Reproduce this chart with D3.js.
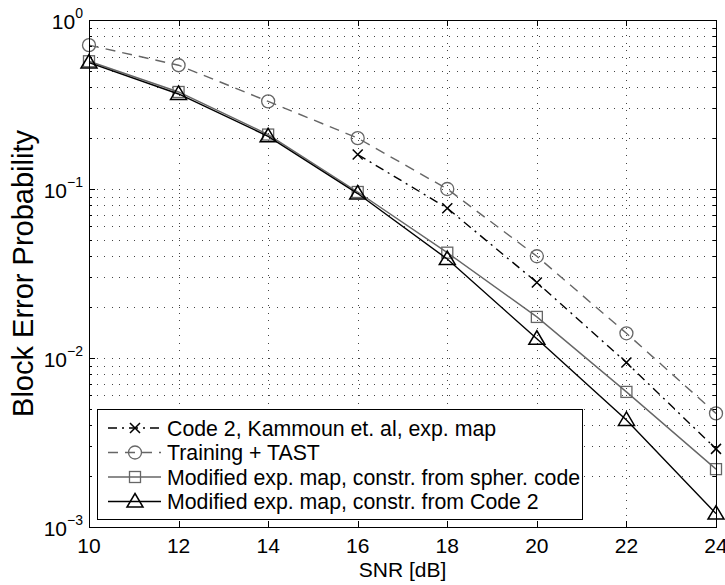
<html>
<head>
<meta charset="utf-8">
<title>Block error probability vs SNR</title>
<script src="https://cdn.jsdelivr.net/npm/d3@7"></script>
<style>
  body { margin: 0; background: #fff; font-family: "Liberation Sans", Arial, sans-serif; }
  svg text { font-family: "Liberation Sans", Arial, sans-serif; fill: #000; }
</style>
</head>
<body>
<div id="chart"></div>
<script>
// ***** DATA *****
var snrValues = [10, 12, 14, 16, 18, 20, 22, 24];
var snrCode2 = [16, 18, 20, 22, 24];
var code2Kammoun = [0.16, 0.077, 0.028, 0.0094, 0.0029];
var trainingTast = [0.71, 0.54, 0.33, 0.20, 0.10, 0.040, 0.014, 0.0047];
var modSpherCode = [0.57, 0.375, 0.21, 0.096, 0.042, 0.0175, 0.0063, 0.0022];
var modCode2 = [0.56, 0.365, 0.205, 0.094, 0.0385, 0.013, 0.0043, 0.0012];
var legendLabels = [
  "Code 2, Kammoun et. al, exp. map",
  "Training + TAST",
  "Modified exp. map, constr. from spher. code",
  "Modified exp. map, constr. from Code 2"
];
var xTicks = [10, 12, 14, 16, 18, 20, 22, 24];
var yDecades = [0, -1, -2, -3];

var width = 725, height = 585;
var margin = { left: 89, right: 9, top: 20, bottom: 58 };
var gray = "#666666";
var fontSize = 21;

var svg = d3.select("#chart").append("svg")
  .attr("width", width).attr("height", height);

var x = d3.scaleLinear().domain([10, 24]).range([margin.left, width - margin.right]);
var y = d3.scaleLog().domain([1e-3, 1]).range([height - margin.bottom, margin.top]);

var x0 = x.range()[0], x1 = x.range()[1], y0 = y.range()[0], y1 = y.range()[1];

// grid - dotted lines at major x ticks and every log tick
var grid = svg.append("g").attr("stroke", "#444").attr("stroke-width", 1)
  .attr("stroke-dasharray", "1,6.5").attr("shape-rendering", "crispEdges");
var yLogTicks = y.ticks();
grid.selectAll(".hg").data(yLogTicks.filter(function(d) { return d < 1 && d > 1e-3; }))
  .enter().append("line")
  .attr("x1", x0).attr("x2", x1)
  .attr("y1", function(d) { return Math.round(y(d)) + 0.5; })
  .attr("y2", function(d) { return Math.round(y(d)) + 0.5; });
grid.selectAll(".vg").data(xTicks.slice(1, -1)).enter().append("line")
  .attr("y1", y1).attr("y2", y0)
  .attr("x1", function(d) { return Math.round(x(d)) + 0.5; })
  .attr("x2", function(d) { return Math.round(x(d)) + 0.5; });

// series
var line = d3.line().x(function(d) { return x(d[0]); }).y(function(d) { return y(d[1]); });
var series = [
  { xs: snrCode2, ys: code2Kammoun, color: "#000", dash: "9,5,2,5", marker: "x" },
  { xs: snrValues, ys: trainingTast, color: gray, dash: "10,7", marker: "o" },
  { xs: snrValues, ys: modSpherCode, color: gray, dash: null, marker: "s" },
  { xs: snrValues, ys: modCode2, color: "#000", dash: null, marker: "^" }
];

function drawMarker(g, type, cx, cy, color) {
  if (type === "x") {
    g.append("path").attr("d", "M" + (cx - 5) + "," + (cy - 5) + "L" + (cx + 5) + "," + (cy + 5) +
      "M" + (cx - 5) + "," + (cy + 5) + "L" + (cx + 5) + "," + (cy - 5))
      .attr("stroke", color).attr("stroke-width", 1.5).attr("fill", "none");
  } else if (type === "o") {
    g.append("circle").attr("cx", cx).attr("cy", cy).attr("r", 6.5)
      .attr("stroke", color).attr("stroke-width", 1.3).attr("fill", "none");
  } else if (type === "s") {
    g.append("rect").attr("x", cx - 5.5).attr("y", cy - 5.5).attr("width", 11).attr("height", 11)
      .attr("stroke", color).attr("stroke-width", 1.3).attr("fill", "none");
  } else if (type === "^") {
    g.append("path").attr("d", "M" + cx + "," + (cy - 8) + "L" + (cx + 8) + "," + (cy + 5.5) +
      "L" + (cx - 8) + "," + (cy + 5.5) + "Z")
      .attr("stroke", color).attr("stroke-width", 1.5).attr("fill", "none");
  }
}

var plot = svg.append("g");
series.forEach(function(s) {
  var pts = s.xs.map(function(v, i) { return [v, s.ys[i]]; });
  plot.append("path").datum(pts).attr("d", line)
    .attr("fill", "none").attr("stroke", s.color).attr("stroke-width", 1.4)
    .attr("stroke-dasharray", s.dash);
  pts.forEach(function(p) { drawMarker(plot, s.marker, x(p[0]), y(p[1]), s.color); });
});

// axes box and ticks (inward, on all four sides)
var axes = svg.append("g").attr("stroke", "#000").attr("stroke-width", 1).attr("shape-rendering", "crispEdges");
axes.append("rect").attr("x", x0 + 0.5).attr("y", y1 + 0.5)
  .attr("width", x1 - x0).attr("height", y0 - y1).attr("fill", "none");
xTicks.forEach(function(t) {
  var px = Math.round(x(t)) + 0.5;
  axes.append("line").attr("x1", px).attr("x2", px).attr("y1", y0).attr("y2", y0 - 6);
  axes.append("line").attr("x1", px).attr("x2", px).attr("y1", y1).attr("y2", y1 + 6);
});
yLogTicks.forEach(function(t) {
  var py = Math.round(y(t)) + 0.5;
  var major = Math.abs(Math.log10(t) - Math.round(Math.log10(t))) < 1e-6;
  var len = major ? 6 : 3;
  axes.append("line").attr("x1", x0).attr("x2", x0 + len).attr("y1", py).attr("y2", py);
  axes.append("line").attr("x1", x1).attr("x2", x1 - len).attr("y1", py).attr("y2", py);
});

// tick labels
svg.selectAll(".xl").data(xTicks).enter().append("text")
  .attr("x", function(d) { return x(d); }).attr("y", y0 + 26)
  .attr("text-anchor", "middle").attr("font-size", fontSize).text(function(d) { return d; });

yDecades.forEach(function(e) {
  var t = svg.append("text").attr("x", x0 - 6).attr("y", y(Math.pow(10, e)) + 9)
    .attr("text-anchor", "end").attr("font-size", fontSize);
  t.append("tspan").text("10");
  t.append("tspan").attr("dy", -11).attr("font-size", 14).text(e === 0 ? "0" : "\u2212" + (-e));
});

// axis labels
svg.append("text").attr("x", (x0 + x1) / 2).attr("y", height - 8)
  .attr("text-anchor", "middle").attr("font-size", fontSize).text("SNR [dB]");
svg.append("text").attr("transform", "translate(33," + ((y0 + y1) / 2) + ") rotate(-90)")
  .attr("text-anchor", "middle").attr("font-size", 29).text("Block Error Probability");

// legend
var lg = svg.append("g");
var lx = 97, ly = 409, lw = 485, rowH = 24.5;
lg.append("rect").attr("x", lx + 0.5).attr("y", ly + 0.5).attr("width", lw).attr("height", 110)
  .attr("fill", "#fff").attr("stroke", "#000").attr("stroke-width", 1).attr("shape-rendering", "crispEdges");
series.forEach(function(s, i) {
  var cy = ly + 19 + i * rowH;
  lg.append("line").attr("x1", lx + 11).attr("x2", lx + 64).attr("y1", cy).attr("y2", cy)
    .attr("stroke", s.color).attr("stroke-width", 1.4).attr("stroke-dasharray", s.dash);
  drawMarker(lg, s.marker, lx + 38, cy, s.color);
  lg.append("text").attr("x", lx + 70).attr("y", cy + 7.5).attr("font-size", 21.3).text(legendLabels[i]);
});
</script>
</body>
</html>
